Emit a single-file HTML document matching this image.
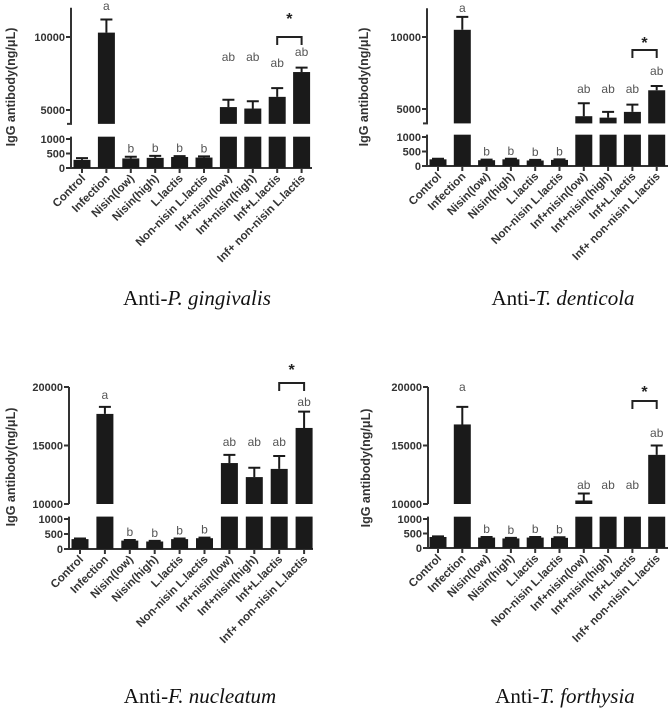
<!DOCTYPE html>
<html><head><meta charset="utf-8">
<style>
body{margin:0;background:#fff;}
svg{display:block;}
text{font-family:"Liberation Sans",sans-serif;}
.t{font-weight:bold;font-size:11px;fill:#333;}
.c{font-weight:bold;font-size:11.5px;fill:#333;}
.yt{font-weight:bold;font-size:12.5px;fill:#333;}
.lab{font-size:12px;fill:#555;}
.ttl{font-family:"Liberation Serif",serif;font-size:21px;fill:#111;}
</style></head>
<body>
<svg id="fig" width="671" height="708" viewBox="0 0 671 708" xmlns="http://www.w3.org/2000/svg"></svg>
<script>
const categories = ["Control","Infection","Nisin(low)","Nisin(high)","L.lactis","Non-nisin L.lactis","Inf+nisin(low)","Inf+nisin(high)","Inf+L.lactis","Inf+ non-nisin L.lactis"];
const pgValues = [280,10300,330,350,380,360,5200,5100,5900,7600];
const pgErrTop = [340,11200,390,420,410,400,5700,5600,6500,7900];
const tdValues = [230,10500,200,230,190,210,4500,4400,4800,6300];
const tdErrTop = [250,11400,220,250,210,230,5400,4800,5300,6600];
const fnValues = [330,17700,280,250,330,360,13500,12300,13000,16500];
const fnErrTop = [350,18300,300,270,350,380,14200,13100,14100,17900];
const tfValues = [380,16800,360,330,360,350,10300,9000,9000,14200];
const tfErrTop = [400,18300,380,350,380,370,10900,9000,9000,15000];
const sigLabels = ["","a","b","b","b","b","ab","ab","ab","ab"];
const upperTicks12 = [5000,10000];
const upperTicks34 = [10000,15000,20000];
const lowerTicks = [0,500,1000];

const NS="http://www.w3.org/2000/svg";
const svg=document.getElementById('fig');
function mk(tag,attrs,parent,txt){const e=document.createElementNS(NS,tag);for(const k in attrs)e.setAttribute(k,attrs[k]);if(txt!==undefined)e.textContent=txt;(parent||svg).appendChild(e);return e;}

const panels=[
 {id:"p-gingivalis",title:["Anti-","P. gingivalis"],vals:pgValues,errs:pgErrTop,ax:71,xEnd:312,x0:82,dx:24.4,
  lo:{y0:168,y1:139},up:{v0:5000,y0:110,v1:10000,y1:37,min:4050,max:12000,tickBottom:true},upTicks:upperTicks12,
  labY:[0,6,0,0,0,0,57,57,63,52],brY:37,starY:16,titleX:197,titleY:305,ytX:10,ytY:87},
 {id:"t-denticola",title:["Anti-","T. denticola"],vals:tdValues,errs:tdErrTop,ax:427,xEnd:668,x0:438,dx:24.3,
  lo:{y0:166,y1:137},up:{v0:5000,y0:109,v1:10000,y1:37,min:4000,max:12000,tickBottom:true},upTicks:upperTicks12,
  labY:[0,8,0,0,0,0,89,89,89,71],brY:50,starY:40,titleX:563,titleY:305,ytX:363,ytY:87},
 {id:"f-nucleatum",title:["Anti-","F. nucleatum"],vals:fnValues,errs:fnErrTop,ax:69,xEnd:313,x0:80,dx:24.9,
  lo:{y0:549,y1:519},up:{v0:10000,y0:504,v1:20000,y1:387,min:10000,max:20000,tickBottom:false},upTicks:upperTicks34,
  labY:[0,395,0,0,0,0,442,442,442,402],brY:383,starY:367,titleX:200,titleY:703,ytX:10,ytY:467},
 {id:"t-forthysia",title:["Anti-","T. forthysia"],vals:tfValues,errs:tfErrTop,ax:428,xEnd:668,x0:438,dx:24.3,
  lo:{y0:548,y1:519},up:{v0:10000,y0:504,v1:20000,y1:387,min:10000,max:20000,tickBottom:false},upTicks:upperTicks34,
  labY:[0,387,0,0,0,0,485,485,485,433],brY:401,starY:389,titleX:565,titleY:703,ytX:365,ytY:468}
];

panels.forEach(p=>{
 const g=mk('g',{});
 
 
 const yLo=v=>p.lo.y0+(p.lo.y1-p.lo.y0)*v/1000;
 const yUp=v=>p.up.y0+(p.up.y1-p.up.y0)*(v-p.up.v0)/(p.up.v1-p.up.v0);
 const xC=i=>p.x0+p.dx*i;
 const loTopV=1080;
 const ya=mk('path',{d:`M${p.ax} ${yUp(p.up.max)}V${yUp(p.up.min)} M${p.ax} ${yLo(loTopV)}V${p.lo.y0}`,stroke:'#333','stroke-width':2,fill:'none'},g);
 
 
 if(p.up.tickBottom){mk('line',{x1:p.ax-4,x2:p.ax+1,y1:yUp(p.up.min),y2:yUp(p.up.min),stroke:'#333','stroke-width':2},g);}
 const xa=mk('line',{x1:p.ax-1,x2:p.xEnd,y1:p.lo.y0,y2:p.lo.y0,stroke:'#333','stroke-width':2},g);
 
 
 p.upTicks.forEach(t=>{const y=yUp(t);mk('line',{x1:p.ax-5,x2:p.ax,y1:y,y2:y,stroke:'#333','stroke-width':2},g);
  const tl=mk('text',{x:p.ax-6,y:y+4,'text-anchor':'end',class:'t'},g,String(t));
  
  });
 lowerTicks.forEach(t=>{const y=yLo(t);mk('line',{x1:p.ax-5,x2:p.ax,y1:y,y2:y,stroke:'#333','stroke-width':2},g);
  const tl=mk('text',{x:p.ax-6,y:y+4,'text-anchor':'end',class:'t'},g,String(t));
  
  });
 const yt=mk('text',{x:0,y:0,'text-anchor':'middle',class:'yt',transform:`translate(${p.ytX+5},${p.ytY}) rotate(-90)`},g,'IgG antibody(ng/μL)');
 
 
 p.vals.forEach((v,i)=>{
  const cx=xC(i),w=17;
  const lv=Math.min(v,loTopV);
  const b=mk('rect',{x:cx-w/2,y:yLo(lv),width:w,height:p.lo.y0-yLo(lv),fill:'#1a1a1a'},g);
  
  
  if(v>p.up.min){
   const ub=mk('rect',{x:cx-w/2,y:yUp(v),width:w,height:yUp(p.up.min)-yUp(v),fill:'#1a1a1a'},g);
   
   
  }
  const e=p.errs[i];
  if(e>v){
   const yv=v>p.up.min?yUp(v):yLo(v), ye=e>p.up.min?yUp(e):yLo(e);
   const eb=mk('path',{d:`M${cx} ${yv}V${ye}M${cx-6} ${ye}H${cx+6}`,stroke:'#1a1a1a','stroke-width':2,fill:'none'},g);
   
   
  }
  mk('line',{x1:cx,x2:cx,y1:p.lo.y0,y2:p.lo.y0+5,stroke:'#333','stroke-width':2},g);
  const cl=mk('text',{x:0,y:0,'text-anchor':'end',class:'c',transform:`translate(${cx+4},${p.lo.y0+11}) rotate(-45)`},g,categories[i]);
  
  
  if(sigLabels[i]){
   let ly;
   if(sigLabels[i]==='b'){ly=yLo(Math.max(v,e))-4;}
   else ly=p.labY[i]+4;
   const s=mk('text',{x:cx,y:ly,'text-anchor':'middle',class:'lab'},g,sigLabels[i]);
   
   
  }
 });
 const x8=xC(8),x9=xC(9);
 const br=mk('path',{d:`M${x8} ${p.brY+8}V${p.brY}H${x9}V${p.brY+8}`,stroke:'#222','stroke-width':2,fill:'none'},g);
 
 
 const st=mk('text',{x:(x8+x9)/2,y:p.starY+8,'text-anchor':'middle',style:'font-size:16px;font-weight:bold;fill:#222'},g,'*');
 
 
 const tt=mk('text',{x:p.titleX,y:p.titleY,'text-anchor':'middle',class:'ttl'},g);
 
 
 mk('tspan',{},tt,p.title[0]);
 mk('tspan',{'font-style':'italic'},tt,p.title[1]);
});
</script>
</body></html>
